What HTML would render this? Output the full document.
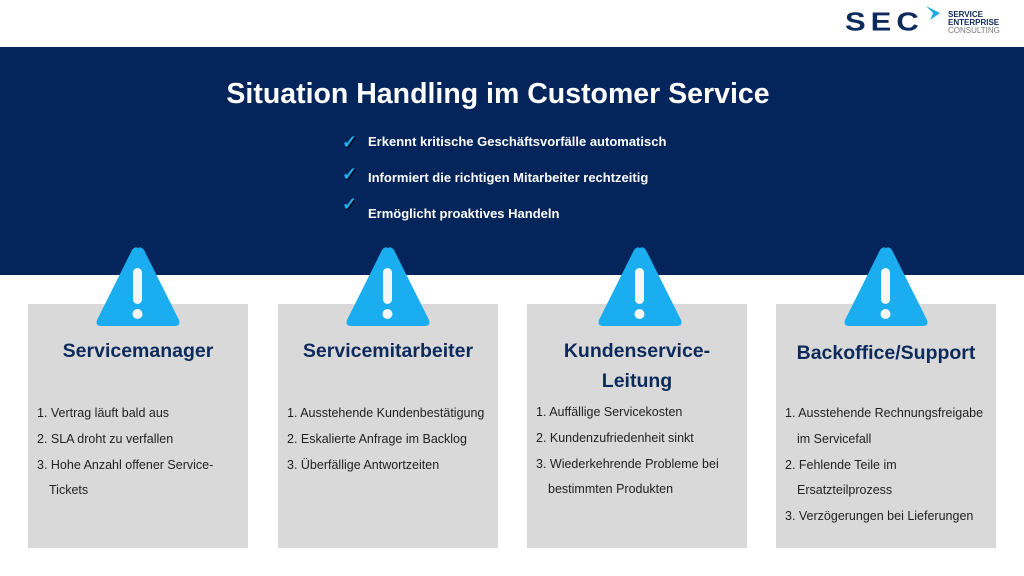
<!DOCTYPE html>
<html><head><meta charset="utf-8"><style>
body{margin:0;width:1024px;height:576px;background:#fff;position:relative;overflow:hidden;font-family:"Liberation Sans",sans-serif}
.banner{position:absolute;left:0;top:47px;width:1024px;height:228px;background:#04245c}
.title{position:absolute;left:0;width:996px;top:78px;text-align:center;color:#fff;font-weight:bold;font-size:28.5px}
.chk{position:absolute;left:342px;color:#1fb0f0;font-size:18px;font-weight:bold;text-shadow:1px 1px 0 #000}
.bt{position:absolute;left:368px;color:#fff;font-weight:bold;font-size:13px}
.box{position:absolute;top:304px;width:220px;height:244px;background:#d9d9d9}
.box h2{position:absolute;left:0;right:0;margin:0;text-align:center;color:#0d2a5c;font-size:19.5px;font-weight:bold;line-height:30px}
.box ol{position:absolute;left:9px;top:97px;width:205px;margin:0;padding:0;list-style:none;font-size:12.5px;color:#222;line-height:25.8px}
.box li{padding-left:12px;text-indent:-12px;white-space:nowrap}
.tri{position:absolute;top:244px}
</style></head><body>
<div style="position:absolute;left:845px;top:7px;font-weight:bold;font-size:31px;color:#0d2a5c;letter-spacing:5px;line-height:30px;transform:scaleY(0.85)">SEC</div>
<div style="position:absolute;left:926px;top:6px;width:14px;height:14px;background:#1fa8e8;clip-path:polygon(0 0,100% 50%,30% 100%,50% 50%)"></div>
<div style="position:absolute;left:948px;top:11px;font-size:8px;font-weight:bold;color:#0d2a5c;line-height:8px">SERVICE<br>ENTERPRISE<br><span style="font-weight:normal;color:#777">CONSULTING</span></div>
<div class="banner"></div>
<div class="title">Situation Handling im Customer Service</div>
<div class="chk" style="top:132px">✓</div><div class="bt" style="top:134px">Erkennt kritische Geschäftsvorfälle automatisch</div>
<div class="chk" style="top:164px">✓</div><div class="bt" style="top:170px">Informiert die richtigen Mitarbeiter rechtzeitig</div>
<div class="chk" style="top:194px">✓</div><div class="bt" style="top:206px">Ermöglicht proaktives Handeln</div>

<div class="box" style="left:28px"><h2 style="top:32px">Servicemanager</h2>
<ol><li>1. Vertrag läuft bald aus</li><li>2. SLA droht zu verfallen</li><li>3. Hohe Anzahl offener Service-<br>Tickets</li></ol></div>
<div class="box" style="left:278px"><h2 style="top:32px">Servicemitarbeiter</h2>
<ol><li>1. Ausstehende Kundenbestätigung</li><li>2. Eskalierte Anfrage im Backlog</li><li>3. Überfällige Antwortzeiten</li></ol></div>
<div class="box" style="left:527px"><h2 style="top:32px">Kundenservice-<br>Leitung</h2>
<ol style="top:96px"><li>1. Auffällige Servicekosten</li><li>2. Kundenzufriedenheit sinkt</li><li>3. Wiederkehrende Probleme bei<br>bestimmten Produkten</li></ol></div>
<div class="box" style="left:776px"><h2 style="top:34px">Backoffice/Support</h2>
<ol><li>1. Ausstehende Rechnungsfreigabe<br>im Servicefall</li><li>2. Fehlende Teile im<br>Ersatzteilprozess</li><li>3. Verzögerungen bei Lieferungen</li></ol></div>

<svg class="tri" style="left:95px" width="86" height="86" viewBox="0 0 86 86"><path d="M43 4 Q46 2 49 6 L84 76 Q86 82 80 82 L6 82 Q0 82 2 76 L37 6 Q40 2 43 4Z" fill="#1aaef0"/><rect x="38" y="24" width="9" height="36" rx="4.5" fill="#f5f7f7"/><circle cx="42.5" cy="70" r="5" fill="#f5f7f7"/></svg>
<svg class="tri" style="left:345px" width="86" height="86" viewBox="0 0 86 86"><path d="M43 4 Q46 2 49 6 L84 76 Q86 82 80 82 L6 82 Q0 82 2 76 L37 6 Q40 2 43 4Z" fill="#1aaef0"/><rect x="38" y="24" width="9" height="36" rx="4.5" fill="#f5f7f7"/><circle cx="42.5" cy="70" r="5" fill="#f5f7f7"/></svg>
<svg class="tri" style="left:597px" width="86" height="86" viewBox="0 0 86 86"><path d="M43 4 Q46 2 49 6 L84 76 Q86 82 80 82 L6 82 Q0 82 2 76 L37 6 Q40 2 43 4Z" fill="#1aaef0"/><rect x="38" y="24" width="9" height="36" rx="4.5" fill="#f5f7f7"/><circle cx="42.5" cy="70" r="5" fill="#f5f7f7"/></svg>
<svg class="tri" style="left:843px" width="86" height="86" viewBox="0 0 86 86"><path d="M43 4 Q46 2 49 6 L84 76 Q86 82 80 82 L6 82 Q0 82 2 76 L37 6 Q40 2 43 4Z" fill="#1aaef0"/><rect x="38" y="24" width="9" height="36" rx="4.5" fill="#f5f7f7"/><circle cx="42.5" cy="70" r="5" fill="#f5f7f7"/></svg>
</body></html>
